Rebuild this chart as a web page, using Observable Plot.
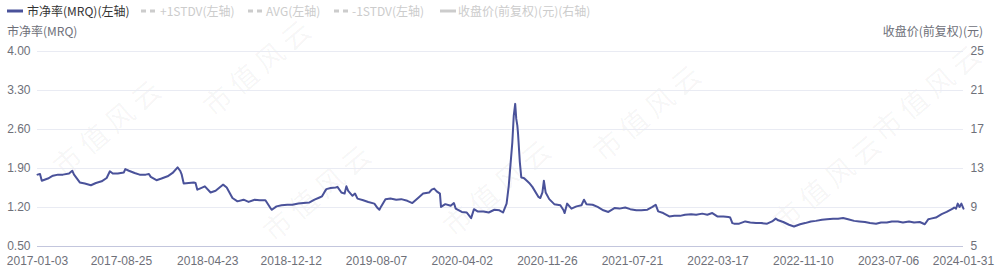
<!DOCTYPE html>
<html>
<head>
<meta charset="utf-8">
<script src="https://cdn.jsdelivr.net/npm/d3@7"></script>
<script src="https://cdn.jsdelivr.net/npm/@observablehq/plot@0.6"></script>
<style>
  html, body { margin: 0; padding: 0; background: #fff; }
  body { font-family: "Noto Sans CJK SC", "Noto Sans", sans-serif; }
  #wrap { position: relative; width: 999px; height: 269px; overflow: hidden; }
  .abs { position: absolute; white-space: nowrap; font-size: 12px; line-height: 14px; }
  .wm { position: absolute; font-size: 28px; line-height: 30px; color: rgba(0,0,0,0.045); transform: rotate(-40deg); transform-origin: center center; white-space: nowrap; pointer-events: none; letter-spacing: 6px; }
</style>
</head>
<body>
<div id="wrap"></div>
<script>
// ---- data ----
const legendItems = ["市净率(MRQ)(左轴)", "+1STDV(左轴)", "AVG(左轴)", "-1STDV(左轴)", "收盘价(前复权)(元)(右轴)"];
const leftTitle = "市净率(MRQ)";
const rightTitle = "收盘价(前复权)(元)";
const leftTicks = [0.5, 1.2, 1.9, 2.6, 3.3, 4.0];
const rightTickLabels = ["5", "9", "13", "17", "21", "25"];
const xTickLabels = ["2017-01-03","2017-08-25","2018-04-23","2018-12-12","2019-08-07","2020-04-02","2020-11-26","2021-07-21","2022-03-17","2022-11-10","2023-07-06","2024-01-31"];

const pb2017 = [["2017-01-03",1.79],["2017-01-10",1.80],["2017-01-15",1.68],["2017-02-01",1.72],["2017-02-15",1.77],["2017-03-01",1.79],["2017-03-15",1.79],["2017-04-01",1.81],["2017-04-10",1.86],["2017-04-15",1.79],["2017-05-01",1.65],["2017-05-15",1.63],["2017-06-01",1.60],["2017-06-15",1.64],["2017-07-01",1.67],["2017-07-15",1.73],["2017-07-24",1.85],["2017-08-01",1.81],["2017-08-15",1.81],["2017-09-01",1.83],["2017-09-05",1.89],["2017-09-15",1.86],["2017-10-01",1.82],["2017-10-15",1.79],["2017-11-01",1.79],["2017-11-10",1.80],["2017-11-15",1.75],["2017-12-01",1.69],["2017-12-15",1.72]];
const pb2018 = [["2018-01-01",1.76],["2018-01-15",1.82],["2018-01-29",1.92],["2018-02-05",1.86],["2018-02-09",1.80],["2018-02-15",1.63],["2018-03-01",1.64],["2018-03-15",1.65],["2018-03-20",1.64],["2018-03-25",1.52],["2018-04-01",1.54],["2018-04-15",1.58],["2018-05-01",1.47],["2018-05-15",1.50],["2018-06-01",1.59],["2018-06-05",1.61],["2018-06-15",1.56],["2018-07-01",1.37],["2018-07-15",1.31],["2018-08-01",1.34],["2018-08-15",1.30],["2018-09-01",1.34],["2018-09-15",1.33],["2018-10-01",1.33],["2018-10-15",1.19],["2018-10-19",1.16],["2018-11-01",1.22],["2018-11-15",1.24],["2018-12-01",1.25],["2018-12-15",1.25]];
const pb2019 = [["2019-01-01",1.27],["2019-01-15",1.28],["2019-02-01",1.29],["2019-02-15",1.34],["2019-03-01",1.38],["2019-03-08",1.40],["2019-03-15",1.48],["2019-03-20",1.53],["2019-04-01",1.55],["2019-04-15",1.56],["2019-04-20",1.57],["2019-05-01",1.47],["2019-05-10",1.45],["2019-05-15",1.58],["2019-05-20",1.50],["2019-06-01",1.41],["2019-06-08",1.45],["2019-06-15",1.36],["2019-07-01",1.33],["2019-07-15",1.30],["2019-08-01",1.27],["2019-08-10",1.19],["2019-08-15",1.16],["2019-08-20",1.22],["2019-09-01",1.35],["2019-09-15",1.36],["2019-10-01",1.34],["2019-10-15",1.35],["2019-11-01",1.32],["2019-11-15",1.28],["2019-12-01",1.37],["2019-12-15",1.45]];
const pb2020 = [["2020-01-01",1.47],["2020-01-08",1.52],["2020-01-15",1.54],["2020-01-22",1.49],["2020-01-31",1.45],["2020-02-03",1.21],["2020-02-15",1.26],["2020-03-01",1.23],["2020-03-10",1.28],["2020-03-15",1.18],["2020-04-01",1.12],["2020-04-15",1.11],["2020-04-27",1.01],["2020-05-05",1.17],["2020-05-15",1.13],["2020-06-01",1.13],["2020-06-15",1.11],["2020-07-01",1.16],["2020-07-15",1.15],["2020-07-25",1.11],["2020-08-04",1.27],["2020-08-10",1.59],["2020-08-15",1.98],["2020-08-20",2.37],["2020-08-24",2.85],["2020-08-28",3.06],["2020-08-31",2.79],["2020-09-03",2.67],["2020-09-05",2.52],["2020-09-10",2.01],["2020-09-14",1.74],["2020-09-21",1.73],["2020-10-01",1.67],["2020-10-06",1.64],["2020-10-15",1.57],["2020-11-01",1.39],["2020-11-06",1.37],["2020-11-12",1.47],["2020-11-16",1.68],["2020-11-21",1.47],["2020-12-01",1.35],["2020-12-15",1.26]];
const pb2021 = [["2021-01-01",1.24],["2021-01-10",1.15],["2021-01-13",1.10],["2021-01-20",1.27],["2021-02-01",1.18],["2021-02-15",1.22],["2021-03-01",1.24],["2021-03-08",1.34],["2021-03-15",1.26],["2021-04-01",1.25],["2021-04-15",1.21],["2021-05-01",1.15],["2021-05-15",1.12],["2021-06-01",1.19],["2021-06-15",1.18],["2021-07-01",1.20],["2021-07-15",1.17],["2021-08-01",1.15],["2021-08-15",1.15],["2021-09-01",1.16],["2021-09-15",1.21],["2021-09-24",1.25],["2021-10-01",1.13],["2021-10-15",1.10],["2021-11-01",1.04],["2021-11-15",1.05],["2021-12-01",1.05],["2021-12-15",1.07]];
const pb2022 = [["2022-01-01",1.08],["2022-01-15",1.07],["2022-02-01",1.09],["2022-02-15",1.07],["2022-03-01",1.10],["2022-03-15",1.04],["2022-04-01",1.04],["2022-04-15",1.03],["2022-04-20",1.02],["2022-04-26",0.92],["2022-05-01",0.91],["2022-05-15",0.91],["2022-06-01",0.95],["2022-06-15",0.93],["2022-07-01",0.92],["2022-07-15",0.92],["2022-08-01",0.91],["2022-08-15",0.95],["2022-08-25",1.00],["2022-09-01",0.97],["2022-09-15",0.94],["2022-10-01",0.89],["2022-10-15",0.86],["2022-11-01",0.90],["2022-11-15",0.92],["2022-12-01",0.95],["2022-12-15",0.96]];
const pb2023 = [["2023-01-01",0.98],["2023-01-15",0.99],["2023-02-01",1.00],["2023-02-15",1.00],["2023-03-01",1.01],["2023-03-15",0.99],["2023-04-01",0.96],["2023-04-15",0.95],["2023-05-01",0.94],["2023-05-15",0.92],["2023-06-01",0.91],["2023-06-15",0.93],["2023-07-01",0.93],["2023-07-15",0.95],["2023-08-01",0.95],["2023-08-15",0.93],["2023-09-01",0.95],["2023-09-15",0.93],["2023-10-01",0.94],["2023-10-15",0.90],["2023-10-25",0.99],["2023-11-01",1.00],["2023-11-15",1.02],["2023-12-01",1.08],["2023-12-15",1.12]];
const pb2024 = [["2024-01-01",1.18],["2024-01-05",1.20],["2024-01-10",1.18],["2024-01-15",1.27],["2024-01-20",1.21],["2024-01-25",1.27],["2024-01-31",1.18]];

// ---- build ----
const parse = d3.utcParse("%Y-%m-%d");
const fmt = d3.utcFormat("%Y-%m-%d");
const data = [...pb2017, ...pb2018, ...pb2019, ...pb2020, ...pb2021, ...pb2022, ...pb2023, ...pb2024]
  .map(([d, v]) => ({date: parse(d), pb: v}));
const xTicks = xTickLabels.map(parse);

const lineColor = "#4a529a";
const axisText = "#6e7079";

const chart = Plot.plot({
  width: 999,
  height: 269,
  marginTop: 51,
  marginBottom: 23,
  marginLeft: 37,
  marginRight: 36,
  style: {fontSize: "12px", fontFamily: '"Liberation Sans", Arial, "Noto Sans CJK SC", sans-serif', color: axisText, background: "transparent"},
  x: {type: "utc", domain: [xTicks[0], xTicks[xTicks.length - 1]]},
  y: {domain: [0.5, 4.0]},
  marks: [
    Plot.gridY(leftTicks.slice(1), {stroke: "#e9ebf3", strokeOpacity: 1, strokeWidth: 1}),
    Plot.ruleY([0.5], {stroke: "#c3c6dd", strokeWidth: 1}),
    Plot.axisY(leftTicks, {anchor: "left", tickSize: 0, tickPadding: 7, tickFormat: d => d.toFixed(2), label: null, fill: axisText}),
    Plot.axisY(leftTicks, {anchor: "right", tickSize: 0, tickPadding: 7, tickFormat: d => rightTickLabels[leftTicks.indexOf(d)], label: null, fill: axisText}),
    Plot.axisX(xTicks, {tickSize: 0, tickPadding: 10, tickFormat: fmt, label: null, fill: axisText}),
    Plot.lineY(data, {x: "date", y: "pb", stroke: lineColor, strokeWidth: 2, strokeLinejoin: "round"})
  ]
});

const wrap = document.getElementById("wrap");
chart.style.position = "absolute";
chart.style.left = "0px";
chart.style.top = "0px";
wrap.appendChild(chart);

// watermarks (kept inside the frame)
const wmText = "市值风云";
const wmPos = [[190, 50], [40, 110], [250, 175], [580, 95], [430, 170], [760, 165], [860, 75]];
for (const [l, t] of wmPos) {
  const w = document.createElement("div");
  w.className = "wm";
  w.style.left = l + "px";
  w.style.top = t + "px";
  w.textContent = wmText;
  wrap.insertBefore(w, chart);
}

// legend
function addText(txt, left, top, color, right) {
  const s = document.createElement("div");
  s.className = "abs";
  if (right != null) s.style.right = right + "px"; else s.style.left = left + "px";
  s.style.top = top + "px";
  s.style.color = color;
  s.textContent = txt;
  wrap.appendChild(s);
}
function addIcon(left, color, dashed) {
  const ns = "http://www.w3.org/2000/svg";
  const svg = document.createElementNS(ns, "svg");
  svg.setAttribute("width", "16");
  svg.setAttribute("height", "6");
  svg.style.position = "absolute";
  svg.style.left = left + "px";
  svg.style.top = "8px";
  const ln = document.createElementNS(ns, "line");
  ln.setAttribute("x1", "0"); ln.setAttribute("x2", "16");
  ln.setAttribute("y1", "3"); ln.setAttribute("y2", "3");
  ln.setAttribute("stroke", color);
  ln.setAttribute("stroke-width", "3");
  if (dashed) ln.setAttribute("stroke-dasharray", "5,4");
  svg.appendChild(ln);
  wrap.appendChild(svg);
}
const legendX = [[7, 27], [141, 160], [248, 266], [334, 352], [440, 458]];
const activeColor = "#333";
const inactiveColor = "#cccccc";
legendItems.forEach((name, i) => {
  const active = i === 0;
  addIcon(legendX[i][0], active ? lineColor : inactiveColor, i >= 1 && i <= 3);
  addText(name, legendX[i][1], 4, active ? activeColor : inactiveColor);
});
addText(leftTitle, 7, 24, "#6e7079");
addText(rightTitle, null, 24, "#6e7079", 16);
</script>
</body>
</html>
